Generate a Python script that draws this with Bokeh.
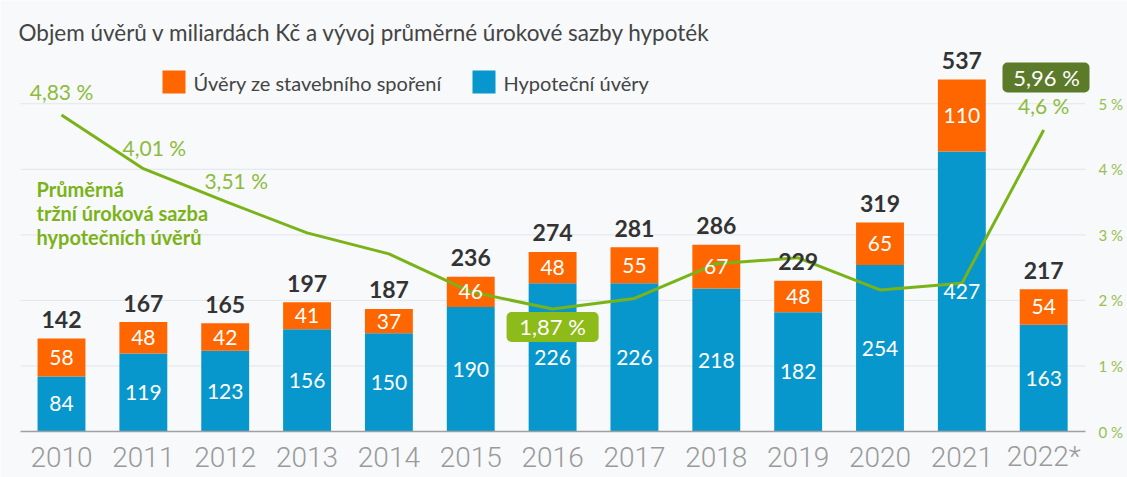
from bokeh.plotting import figure
from bokeh.models import Range1d, ColumnDataSource, BoxAnnotation, Label
from bokeh.core.properties import value
from bokeh.embed import file_html
from bokeh.resources import INLINE

# ---------------- data ----------------
years = ["2010", "2011", "2012", "2013", "2014", "2015", "2016",
         "2017", "2018", "2019", "2020", "2021", "2022*"]
hypo = [84, 119, 123, 156, 150, 190, 226, 226, 218, 182, 254, 427, 163]
stav = [58, 48, 42, 41, 37, 46, 48, 55, 67, 48, 65, 110, 54]
totals = [142, 167, 165, 197, 187, 236, 274, 281, 286, 229, 319, 537, 217]
rate = [4.83, 4.01, 3.51, 3.03, 2.71, 2.13, 1.87, 2.03, 2.56, 2.65, 2.16, 2.26, 4.60]
rate_labels = ["4,83 %", "4,01 %", "3,51 %", "", "", "", "", "", "", "", "", "", "4,6 %"]
rate_min_label = "1,87 %"
rate_current_label = "5,96 %"
rate_ticks = [0, 1, 2, 3, 4, 5]
rate_tick_labels = ["0 %", "1 %", "2 %", "3 %", "4 %", "5 %"]

title_text = "Objem úvěrů v miliardách Kč a vývoj průměrné úrokové sazby hypoték"
legend_stav = "Úvěry ze stavebního spoření"
legend_hypo = "Hypoteční úvěry"
series_note = ["Průměrná", "tržní úroková sazba", "hypotečních úvěrů"]

# ---------------- styling ----------------
ORANGE = "#ff6600"
BLUE = "#0897cc"
LINE = "#7ab317"
BADGE1 = "#8cbb1a"
BADGE2 = "#5b7a2a"
RATE_TXT = "#8dbb3c"
BG = "#f7f9fb"
FONT = "Lato"

W, H = 1127, 477
BASE_PX = 431.0         # pixel row of the zero line
CAT0_PX = 61.0          # centre of first category
PX_PER_CAT = 81.85
PX_PER_UNIT = 0.6555    # pixels per bar unit (mld. Kč); 100 units = 1 %
GRID_L, GRID_R = 20, 1085


def px2x(px):
    return (px - CAT0_PX) / PX_PER_CAT


def px2y(py):
    return (BASE_PX - py) / PX_PER_UNIT


Y0, Y1 = px2y(H), px2y(0)
p = figure(width=W, height=H, output_backend="svg", toolbar_location=None,
           x_range=Range1d(px2x(0), px2x(W)), y_range=Range1d(Y0, Y1),
           x_axis_location=None, y_axis_location=None,
           min_border_left=0, min_border_right=0, min_border_top=0, min_border_bottom=0,
           background_fill_color=BG, border_fill_color=BG, outline_line_color=None)
p.extra_y_ranges = {"rate": Range1d(Y0 / 100.0, Y1 / 100.0)}
p.xgrid.visible = False
p.ygrid.visible = False

# grid lines (rate scale)
gx0, gx1 = px2x(GRID_L), px2x(GRID_R)
p.segment([gx0] * 5, rate_ticks[1:], [gx1] * 5, rate_ticks[1:], y_range_name="rate",
          line_color="#e2e6ea", line_width=1)

# right axis labels
p.text([px2x(1098)] * len(rate_ticks), rate_ticks, text=rate_tick_labels,
       y_range_name="rate", text_align="left", text_baseline="middle",
       text_color="#96c050", text_font=value(FONT), text_font_size="15px")

# bars
xs = list(range(len(years)))
src = ColumnDataSource(dict(
    x=xs, hypo=hypo, stav=stav, top=[h + s for h, s in zip(hypo, stav)],
    hypo_mid=[h / 2 for h in hypo], stav_mid=[h + s / 2 for h, s in zip(hypo, stav)],
    hypo_txt=[str(v) for v in hypo], stav_txt=[str(v) for v in stav],
    tot_txt=[str(v) for v in totals], rate=rate, year=years,
    zero=[0] * len(years),
))
p.vbar_stack(["hypo", "stav"], x="x", width=0.585, color=[BLUE, ORANGE],
             line_color=None, source=src)

# baseline
p.segment([gx0], [0], [gx1], [0], line_color="#a0a0a0", line_width=1.5)

# category labels
p.text("x", "zero", text="year", source=src, text_align="center",
       text_baseline="middle", text_color="#9a9a9a",
       text_font=value("'Roboto Light', Roboto"), text_font_size="28px", y_offset=25)

# rate line
p.line("x", "rate", y_range_name="rate", source=src, line_color=LINE, line_width=3)

# bar labels
p.text("x", "hypo_mid", text="hypo_txt", source=src, text_align="center",
       text_baseline="middle", text_color="white", text_font=value(FONT),
       text_font_size="21px")
p.text("x", "stav_mid", text="stav_txt", source=src, text_align="center",
       text_baseline="middle", text_color="white", text_font=value(FONT),
       text_font_size="21px")
p.text("x", "top", text="tot_txt", source=src, text_align="center",
       text_baseline="middle", text_color="#333333", text_font=value(FONT),
       text_font_style="bold", text_font_size="23px", y_offset=-19)

# rate labels
rl_x = [i for i, t in enumerate(rate_labels) if t]
last = len(years) - 1
rl_src = ColumnDataSource(dict(
    x=rl_x, y=[rate[i] for i in rl_x], t=[rate_labels[i] for i in rl_x],
    dx=[0 if i in (0, last) else 11 for i in rl_x],
    dy=[-23 if i == 0 else (-24 if i == last else -21) for i in rl_x],
))
p.text("x", "y", text="t", source=rl_src, y_range_name="rate", text_align="center",
       text_baseline="middle", text_color=RATE_TXT, text_font=value(FONT),
       text_font_size="21px", x_offset="dx", y_offset="dy")

# badge: minimum rate
imin = rate.index(min(rate))
cy_px = BASE_PX - min(rate) * 100 * PX_PER_UNIT + 18
cx_px = CAT0_PX + imin * PX_PER_CAT
p.add_layout(BoxAnnotation(left=px2x(cx_px - 46), right=px2x(cx_px + 46),
                           bottom=px2y(cy_px + 15), top=px2y(cy_px - 15),
                           fill_color=BADGE1, fill_alpha=1, line_color=None,
                           border_radius=5))
p.add_layout(Label(x=imin, y=px2y(cy_px), text=rate_min_label, text_align="center",
                   text_baseline="middle", text_color="white", text_font=FONT,
                   text_font_size="22px"))

# badge: current rate
p.add_layout(BoxAnnotation(left=px2x(1002), right=px2x(1089), bottom=px2y(92),
                           top=px2y(62), fill_color=BADGE2, fill_alpha=1,
                           line_color=None, border_radius=5))
p.add_layout(Label(x=px2x(1046), y=px2y(77), text=rate_current_label,
                   text_align="center", text_baseline="middle", text_color="white",
                   text_font=FONT, text_font_size="22px"))

# series note
p.text([px2x(36)] * 3, [px2y(188), px2y(212), px2y(236)], text=series_note,
       text_align="left", text_baseline="middle", text_color=LINE,
       text_font=value(FONT), text_font_style="bold", text_font_size="20px")

# title
p.text([px2x(18)], [px2y(32)], text=[title_text], text_align="left",
       text_baseline="middle", text_color="#444444", text_font=value(FONT),
       text_font_size="22.5px")

# legend
p.rect([px2x(173.5), px2x(483.5)], [px2y(81.5)] * 2, width=23, height=23,
       width_units="screen", height_units="screen", color=[ORANGE, BLUE],
       line_color=None)
p.text([px2x(193), px2x(503)], [px2y(82)] * 2, text=[legend_stav, legend_hypo],
       text_align="left", text_baseline="middle", text_color="#444444",
       text_font=value(FONT), text_font_size="20px")

open("out.html", "w").write(file_html(p, INLINE))
